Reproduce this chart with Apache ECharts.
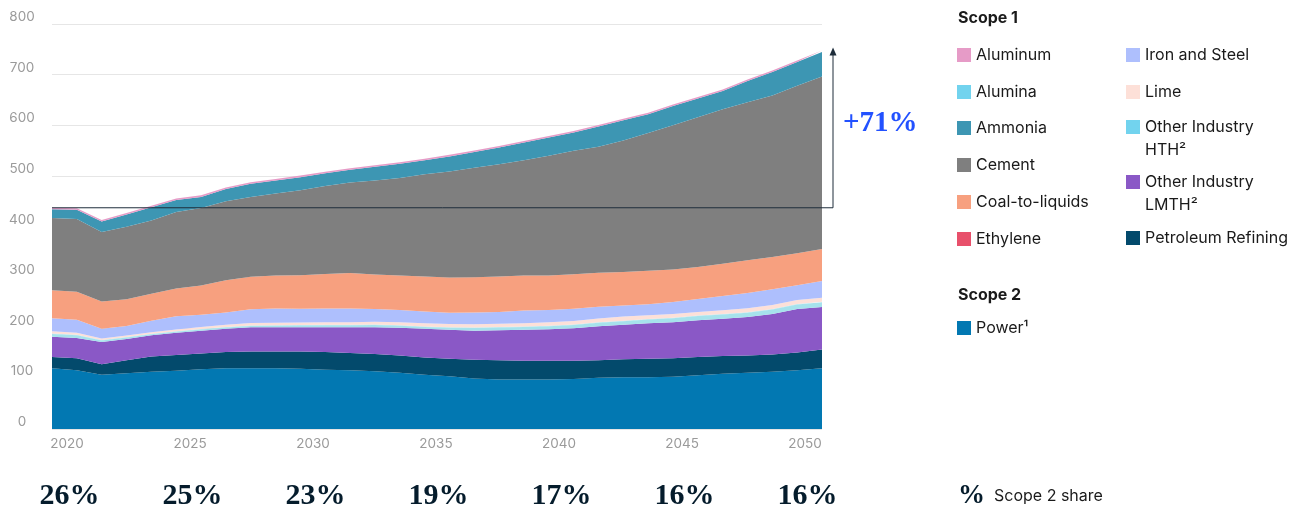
<!DOCTYPE html>
<html>
<head>
<meta charset="utf-8">
<script src="https://cdn.jsdelivr.net/npm/echarts@6/dist/echarts.min.js"></script>
<style>
  html, body { margin: 0; padding: 0; background: #fff; }
  #chart { width: 1309px; height: 511px; }
</style>
</head>
<body>
<div id="chart"></div>
<script>
// data points along the x axis (one per year step)
const years = ['2019','2020','2021','2022','2023','2024','2025','2026','2027','2028','2029','2030','2031','2032','2033','2034',
  '2035','2036','2037','2038','2039','2040','2041','2042','2043','2044','2045','2046','2047','2048','2049','2050']

// tick labels under the chart
const labelYears = [2020, 2025, 2030, 2035, 2040, 2045, 2050]
const scope2Share = ['26%', '25%', '23%', '19%', '17%', '16%', '16%']
const growthLabel = '+71%'

// series, bottom of stack first
const power      = [120,116,107,110,113,115,118,120,120,120,119,117,116,114,111,107,104,100,98,98,98,99,101,102,102,103,106,109,111,113,116,120]
const petroleum  = [22,24,21,26,30,31,31,32,33,33,34,35,34,34,34,34,35,37,38,37,37,36,35,36,37,37,36,35,34,34,35,37]
const lmth       = [40,40,44,42,42,44,45,46,48,48,48,49,51,53,55,57,57,57,59,61,62,64,67,68,70,71,73,74,76,80,86,84]
const hth        = [5.5,5,3,2.5,2,2,2.5,2.5,2.5,3,3.5,4,4,4.5,4,3.5,4,5.5,5.5,5.5,6,6.5,7,7,7.5,8,8,8,8.5,9,9,9.5]
const alumina    = [1,1,1,1,1,1,1,1,1,1,1,1,1,1,1,1,1,1,1,1,1,1,1,1,1,1,1,1,1,1,1,1]
const lime       = [4.5,4,3,3,3,3.5,4,4.5,5,5,5,5,5,5.5,6,6.5,6.5,6.5,6.5,6.5,7,7,7.5,8,7,7,7,7.5,8,8,8,8]
const ironSteel  = [26,26,19,19,23,26,24,24,27,28,27,27,27,25,24,23,22,23,23,25,24,24,23,22,22,24,26,28,30,31,29,33]
const coal       = [55,55,54,53,53,55,58,64,64,65,66,68,70,68,68,69,70,70,70,69,68,68,67,66,66,64,63,64,65,64,63,63]
const ethylene   = [0,0,0,0,0,0,0,0,0,0,0,0,0,0,0,0,0,0,0,0,0,0,0,0,0,0,0,0,0,0,0,0]
const cement     = [143,144,137,143,145,151,153,156,158,162,168,174,179,186,193,202,209,216,222,228,237,244,249,260,272,285,296,305,312,319,331,341]
const ammonia    = [17,18,21,24,26,24,22,24,26,26,26,25,25,27,28,28,30,31,33,35,36,36,40,40,37,38,37,36,42,46,47,48]
const aluminum   = [3,3,3,3,3,3,3,3,3,3,3,3,3,3,3,3,3,3,3,3,3,3,3,3,3,3,3,3,3,3,3,3]

const seriesDefs = [
  { name: 'Power¹', data: power, color: '#0278b2' },
  { name: 'Petroleum Refining', data: petroleum, color: '#034a6c' },
  { name: 'Other Industry LMTH²', data: lmth, color: '#8a58c6' },
  { name: 'Other Industry HTH²', data: hth, color: '#a6e2ec', legendColor: '#72d3ee' },
  { name: 'Alumina', data: alumina, color: '#a6e2ec', legendColor: '#72d3ee' },
  { name: 'Lime', data: lime, color: '#fde0d8' },
  { name: 'Iron and Steel', data: ironSteel, color: '#aebffd' },
  { name: 'Coal-to-liquids', data: coal, color: '#f7a07f' },
  { name: 'Ethylene', data: ethylene, color: '#e8506b' },
  { name: 'Cement', data: cement, color: '#7f7f7f' },
  { name: 'Ammonia', data: ammonia, color: '#3d96b3' },
  { name: 'Aluminum', data: aluminum, color: '#e69bc7' }
]

const totals = years.map((_, i) => seriesDefs.reduce((s, d) => s + d.data[i], 0))

// legend placement: left edge of swatch, centre of first text line
const legendLayout = [
  { name: 'Aluminum', x: 957, y: 54 },
  { name: 'Alumina', x: 957, y: 91 },
  { name: 'Ammonia', x: 957, y: 127 },
  { name: 'Cement', x: 957, y: 164 },
  { name: 'Coal-to-liquids', x: 957, y: 201 },
  { name: 'Ethylene', x: 957, y: 238 },
  { name: 'Iron and Steel', x: 1126, y: 54 },
  { name: 'Lime', x: 1126, y: 91 },
  { name: 'Other Industry HTH²', x: 1126, y: 127, twoLine: true },
  { name: 'Other Industry LMTH²', x: 1126, y: 182, twoLine: true },
  { name: 'Petroleum Refining', x: 1126, y: 237 },
  { name: 'Power¹', x: 957, y: 327 }
]

const sansFont = 'Inter, "Noto Sans", sans-serif'
const serifFont = '"Liberation Serif", "DejaVu Serif", serif'

const legends = legendLayout.map(l => {
  const def = seriesDefs.find(d => d.name === l.name)
  return {
    show: true,
    left: l.x,
    top: l.twoLine ? l.y - 34.5 : l.y - 7,
    padding: 0,
    itemWidth: 14,
    itemHeight: 14,
    icon: 'rect',
    selectedMode: false,
    data: [{ name: l.name, itemStyle: { color: def.legendColor || def.color } }],
    // two-line names get an empty first line so the swatch sits on the first text line
    formatter: n => l.twoLine ? ' \n' + n.replace('Other Industry ', 'Other Industry\n') : n,
    textStyle: { fontFamily: sansFont, fontSize: 16, color: '#1a1a1a', lineHeight: l.twoLine ? 23 : 14 }
  }
})

const chart = echarts.init(document.getElementById('chart'))

const option = {
  animation: false,
  grid: { left: 52, right: 487, top: 24, bottom: 82, containLabel: false },
  legend: legends,
  xAxis: [
    {
      type: 'category',
      data: years,
      boundaryGap: false,
      axisLine: { show: false },
      axisTick: { show: false },
      axisLabel: { show: false }
    },
    {
      type: 'value',
      min: 2019.39,
      max: 2050.69,
      position: 'bottom',
      axisLine: { show: false },
      axisTick: { show: false },
      splitLine: { show: false },
      axisLabel: {
        customValues: labelYears,
        formatter: v => String(v),
        color: '#9a9a9a',
        fontSize: 13.5,
        fontFamily: sansFont,
        margin: 8
      }
    },
    {
      type: 'value',
      min: 2019.39,
      max: 2050.69,
      position: 'bottom',
      axisLine: { show: false },
      axisTick: { show: false },
      splitLine: { show: false },
      axisLabel: {
        customValues: labelYears,
        formatter: v => scope2Share[labelYears.indexOf(Math.round(v))] || '',
        color: '#051c2c',
        fontSize: 30,
        fontWeight: 'bold',
        fontFamily: serifFont,
        verticalAlign: 'middle',
        margin: 67,
        padding: [0, 0, 0, 5]
      }
    }
  ],
  yAxis: {
    type: 'value',
    min: 0,
    max: 800,
    interval: 100,
    axisLine: { show: false },
    axisTick: { show: false },
    splitLine: { lineStyle: { color: '#e6e6e6', width: 1 } },
    axisLabel: {
      color: '#9a9a9a',
      fontSize: 13.5,
      fontFamily: sansFont,
      align: 'center',
      verticalAlign: 'bottom',
      margin: 30
    }
  },
  series: seriesDefs.map(d => ({
    name: d.name,
    type: 'line',
    stack: 'total',
    data: d.data,
    color: d.color,
    symbol: 'none',
    showSymbol: false,
    silent: true,
    lineStyle: { width: 0 },
    areaStyle: { color: d.color, opacity: 1 },
    emphasis: { disabled: true }
  }))
}

chart.setOption(option)

// reference line at the 2020 total and growth arrow up to the 2050 total
const last = years.length - 1
const xStart = chart.convertToPixel({ xAxisIndex: 0 }, years[0])
const xEnd = chart.convertToPixel({ xAxisIndex: 0 }, years[last])
const yStart = chart.convertToPixel({ yAxisIndex: 0 }, totals[0])
const yEnd = chart.convertToPixel({ yAxisIndex: 0 }, totals[last])
const xArrow = xEnd + 11

chart.setOption({
  graphic: [
    {
      type: 'polyline',
      z: 100,
      shape: { points: [[xStart, yStart], [xArrow, yStart], [xArrow, yEnd + 4]] },
      style: { stroke: '#1e2d3b', lineWidth: 1, fill: null }
    },
    {
      type: 'polygon',
      z: 100,
      shape: { points: [[xArrow - 3.5, yEnd + 5], [xArrow + 3.5, yEnd + 5], [xArrow, yEnd - 3]] },
      style: { fill: '#1e2d3b' }
    },
    {
      type: 'text',
      z: 100,
      x: xArrow + 10,
      y: (yStart + yEnd) / 2 - 6,
      style: { text: growthLabel, font: 'bold 29px ' + serifFont, fill: '#2251ff', verticalAlign: 'middle' }
    },
    {
      type: 'text',
      x: 958,
      y: 18,
      style: { text: 'Scope 1', font: 'bold 16px ' + sansFont, fill: '#1a1a1a', verticalAlign: 'middle' }
    },
    {
      type: 'text',
      x: 958,
      y: 295,
      style: { text: 'Scope 2', font: 'bold 16px ' + sansFont, fill: '#1a1a1a', verticalAlign: 'middle' }
    },
    {
      type: 'text',
      x: 958,
      y: 496,
      style: { text: '%', font: 'bold 27px ' + serifFont, fill: '#051c2c', verticalAlign: 'middle' }
    },
    {
      type: 'text',
      x: 994,
      y: 496,
      style: { text: 'Scope 2 share', font: '16px ' + sansFont, fill: '#1a1a1a', verticalAlign: 'middle' }
    }
  ]
})
</script>
</body>
</html>
